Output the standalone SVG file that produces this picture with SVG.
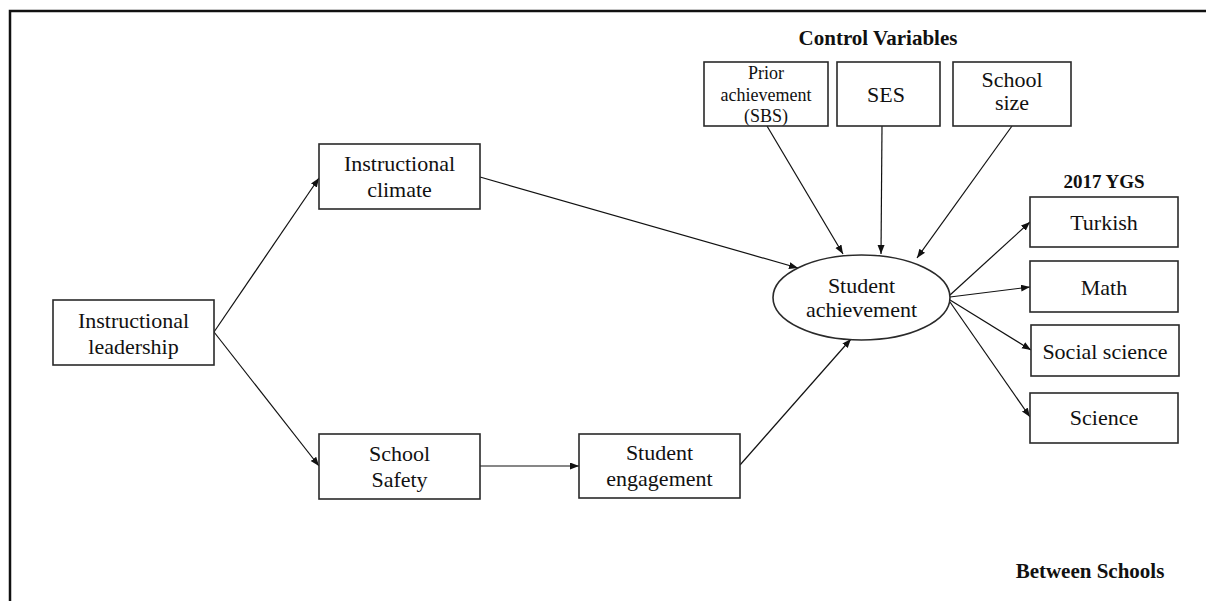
<svg xmlns="http://www.w3.org/2000/svg" width="1206" height="601" viewBox="0 0 1206 601">
<style>
  .box { fill: #ffffff; stroke: #2a2a2a; stroke-width: 1.6; }
  .t { font-family: "Liberation Serif", "Times New Roman", serif; font-size: 22px; fill: #111; text-anchor: middle; }
  .ts { font-size: 18px; }
  .b { font-family: "Liberation Serif", "Times New Roman", serif; font-weight: bold; fill: #111; text-anchor: middle; }
  .c { fill: none; stroke: #111; stroke-width: 1.2; marker-end: url(#ah); }
</style>
<defs>
  <marker id="ah" markerUnits="userSpaceOnUse" markerWidth="10" markerHeight="8" refX="9" refY="3.5" orient="auto">
    <path d="M0,0 L9,3.5 L0,7 Z" fill="#111"/>
  </marker>
</defs>
<rect x="0" y="0" width="1206" height="601" fill="#ffffff"/>
<path d="M10,601 V11 H1206" fill="none" stroke="#111" stroke-width="2.5"/>

<text class="b" x="878" y="45" font-size="21">Control Variables</text>
<text class="b" x="1104" y="188" font-size="19">2017 YGS</text>
<text class="b" x="1090" y="578" font-size="21">Between Schools</text>

<g id="connectors">
  <line class="c" x1="214" y1="332" x2="319" y2="178"/>
  <line class="c" x1="214" y1="332" x2="319" y2="466"/>
  <line class="c" x1="480" y1="177" x2="798" y2="268"/>
  <line class="c" x1="480" y1="466" x2="579" y2="466"/>
  <line class="c" x1="740" y1="465" x2="851" y2="339"/>
  <line class="c" x1="767" y1="126" x2="843" y2="254"/>
  <line class="c" x1="882" y1="126" x2="881" y2="254"/>
  <line class="c" x1="1012" y1="126" x2="917" y2="258"/>
  <line class="c" x1="950" y1="295" x2="1030" y2="222"/>
  <line class="c" x1="950" y1="297" x2="1030" y2="287"/>
  <line class="c" x1="950" y1="300" x2="1031" y2="350"/>
  <line class="c" x1="950" y1="302" x2="1030" y2="417"/>
</g>

<g id="instructional-leadership">
  <rect class="box" x="53" y="300" width="161" height="65"/>
  <text class="t" x="133.5" y="328">Instructional</text>
  <text class="t" x="133.5" y="354">leadership</text>
</g>
<g id="instructional-climate">
  <rect class="box" x="319" y="144" width="161" height="65"/>
  <text class="t" x="399.5" y="171">Instructional</text>
  <text class="t" x="399.5" y="197">climate</text>
</g>
<g id="school-safety">
  <rect class="box" x="319" y="434" width="161" height="65"/>
  <text class="t" x="399.5" y="461">School</text>
  <text class="t" x="399.5" y="487">Safety</text>
</g>
<g id="student-engagement">
  <rect class="box" x="579" y="434" width="161" height="64"/>
  <text class="t" x="659.5" y="460">Student</text>
  <text class="t" x="659.5" y="486">engagement</text>
</g>
<g id="student-achievement">
  <ellipse class="box" cx="861.5" cy="297.5" rx="88.5" ry="42.5"/>
  <text class="t" x="861.5" y="293" font-size="21">Student</text>
  <text class="t" x="861.5" y="317" font-size="21">achievement</text>
</g>
<g id="prior-achievement">
  <rect class="box" x="704" y="62" width="124" height="64"/>
  <text class="t ts" x="766" y="79">Prior</text>
  <text class="t ts" x="766" y="101">achievement</text>
  <text class="t ts" x="766" y="122">(SBS)</text>
</g>
<g id="ses">
  <rect class="box" x="837" y="62" width="103" height="64"/>
  <text class="t" x="886" y="102">SES</text>
</g>
<g id="school-size">
  <rect class="box" x="953" y="62" width="118" height="64"/>
  <text class="t" x="1012" y="87">School</text>
  <text class="t" x="1012" y="110">size</text>
</g>
<g id="turkish">
  <rect class="box" x="1030" y="197" width="148" height="50"/>
  <text class="t" x="1104" y="230">Turkish</text>
</g>
<g id="math">
  <rect class="box" x="1030" y="261" width="148" height="51"/>
  <text class="t" x="1104" y="295">Math</text>
</g>
<g id="social-science">
  <rect class="box" x="1031" y="325" width="148" height="51"/>
  <text class="t" x="1105" y="359">Social science</text>
</g>
<g id="science">
  <rect class="box" x="1030" y="393" width="148" height="50"/>
  <text class="t" x="1104" y="425">Science</text>
</g>
</svg>
